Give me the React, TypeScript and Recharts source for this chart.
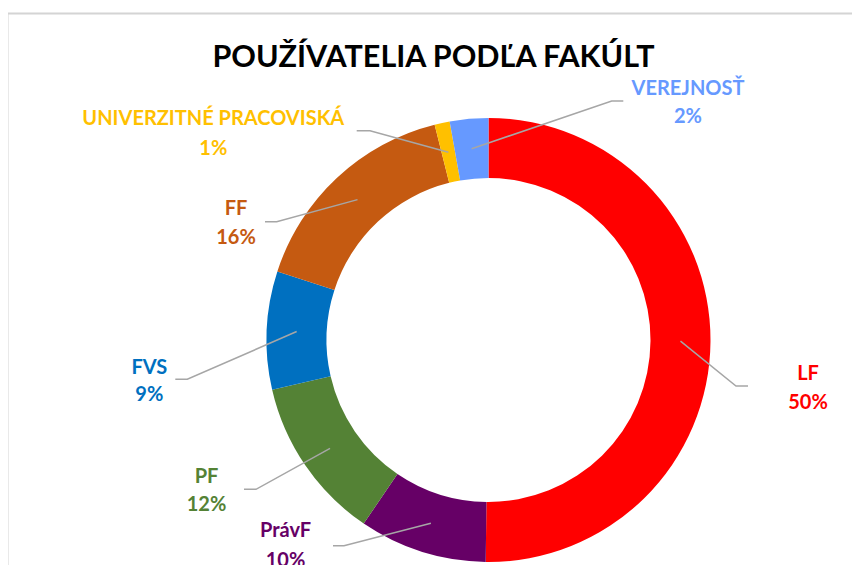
import React from "react";
import { PieChart, Pie, Cell } from "recharts";

// ---- data ----
const categories = ["LF", "PrávF", "PF", "FVS", "FF", "UNIVERZITNÉ PRACOVISKÁ", "VEREJNOSŤ"];
const shares = [50.2, 9.3, 11.9, 8.6, 16.1, 1.1, 2.8];
const percentLabels = ["50%", "10%", "12%", "9%", "16%", "1%", "2%"];
const title = "POUŽÍVATELIA PODĽA FAKÚLT";

// ---- styles / layout ----
const colors = ["#FF0000", "#660066", "#548235", "#0070C0", "#C55A11", "#FFC000", "#6699FF"];
const FONT = "Lato, 'Open Sans', sans-serif";
const LABEL_SIZE = 20;
const CAP = 7.2;
// relative to the pie centre: elbow (ex, ey), horizontal tail (h), text centre x (tx), line centres (y1, y2)
const labelLayout = [
  { ex: 247.5, ey: 46, h: 12, tx: 319.5, y1: 33, y2: 62 },
  { ex: -144.5, ey: 205.7, h: -11, tx: -203, y1: 190, y2: 220 },
  { ex: -232.5, ey: 149.3, h: -12, tx: -282, y1: 135.7, y2: 164 },
  { ex: -301.2, ey: 39.3, h: -12, tx: -339.2, y1: 26.7, y2: 54 },
  { ex: -211.8, ey: -118.3, h: -11.7, tx: -252.5, y1: -132, y2: -103 },
  { ex: -118.5, ey: -209.3, h: -13.3, tx: -275.2, y1: -222.5, y2: -192.5 },
  { ex: 123.2, ey: -239, h: 11.6, tx: 199.5, y1: -252.5, y2: -224 },
];

const data = categories.map((name, i) => ({ name, value: shares[i], pct: percentLabels[i] }));

const RAD = Math.PI / 180;

const renderLabel = (props: any) => {
  const { cx, cy, midAngle, innerRadius, outerRadius, index } = props;
  const r = (innerRadius + outerRadius) / 2;
  const sx = cx + r * Math.cos(-midAngle * RAD);
  const sy = cy + r * Math.sin(-midAngle * RAD);
  const L = labelLayout[index];
  const ex = cx + L.ex;
  const ey = cy + L.ey;
  const color = colors[index];
  return (
    <g key={"lbl" + index}>
      <polyline
        points={`${sx},${sy} ${ex},${ey} ${ex + L.h},${ey}`}
        fill="none"
        stroke="#A6A6A6"
        strokeWidth={1.5}
      />
      <text
        x={cx + L.tx}
        y={cy + L.y1 + CAP}
        textAnchor="middle"
        fill={color}
        fontFamily={FONT}
        fontWeight={700}
        fontSize={LABEL_SIZE}
      >
        {data[index].name}
      </text>
      <text
        x={cx + L.tx}
        y={cy + L.y2 + CAP}
        textAnchor="middle"
        fill={color}
        fontFamily={FONT}
        fontWeight={700}
        fontSize={LABEL_SIZE}
      >
        {data[index].pct}
      </text>
    </g>
  );
};

export default function App() {
  return (
    <div style={{ position: "relative", width: 860, height: 573, margin: -8, overflow: "hidden", background: "#fff" }}>
      <div style={{ position: "absolute", left: 0, top: 0 }}>
        <PieChart width={860} height={573} margin={{ top: 0, right: 0, bottom: 0, left: 0 }}>
          <Pie
            data={data}
            dataKey="value"
            nameKey="name"
            cx={488.5}
            cy={340}
            innerRadius={162}
            outerRadius={222}
            startAngle={90}
            endAngle={-270}
            stroke="none"
            label={renderLabel}
            labelLine={false}
            isAnimationActive={false}
          >
            {data.map((d, i) => (
              <Cell key={d.name} fill={colors[i]} />
            ))}
          </Pie>
        </PieChart>
      </div>
      <svg width={860} height={573} style={{ position: "absolute", left: 0, top: 0, pointerEvents: "none" }}>
        <rect x={7.5} y={13.5} width={900} height={700} fill="none" stroke="#D4D4D4" strokeWidth={2} />
        <text x={433.5} y={66.7} textAnchor="middle" fontFamily={FONT} fontWeight={700} fontSize={30.5} fill="#000">
          {title}
        </text>
      </svg>
    </div>
  );
}
